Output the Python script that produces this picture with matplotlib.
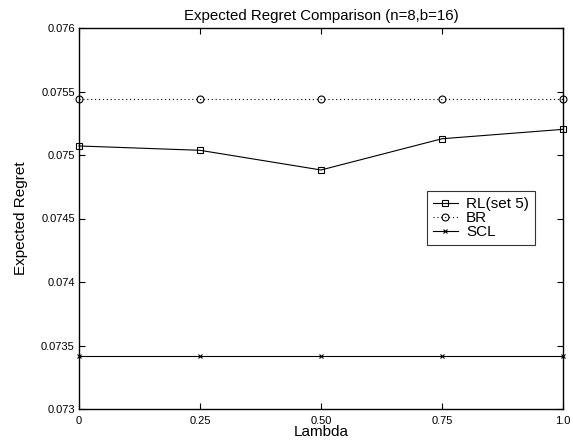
import numpy as np
import matplotlib
matplotlib.use("Agg")
import matplotlib.pyplot as plt

plt.rcParams["font.family"] = ["Liberation Sans", "DejaVu Sans"]

lam = [0, 0.25, 0.5, 0.75, 1.0]
lam_labels = ["0", "0.25", "0.50", "0.75", "1.0"]
rl = [0.075071, 0.075037, 0.074882, 0.075128, 0.075202]
br = [0.075441, 0.075441, 0.075441, 0.075441, 0.075441]
scl = [0.07342, 0.07342, 0.07342, 0.07342, 0.07342]
y_ticks = [0.073, 0.0735, 0.074, 0.0745, 0.075, 0.0755, 0.076]
y_labels = ["0.073", "0.0735", "0.074", "0.0745", "0.075", "0.0755", "0.076"]

fig = plt.figure(figsize=(5.73, 4.41), dpi=100)
ax = fig.add_axes([79 / 573, 1 - 409 / 441, (563 - 79) / 573, (409 - 28) / 441])

ax.plot(lam, rl, color="black", linewidth=0.8, marker="s", markersize=4.5,
        markerfacecolor="none", markeredgewidth=0.8, label="RL(set 5)", clip_on=False)
ax.plot(lam, br, color="black", linewidth=0.8, linestyle=(0, (1, 2.5)), marker="o",
        markersize=5, markerfacecolor="none", markeredgewidth=0.8, label="BR", clip_on=False)
ax.plot(lam, scl, color="black", linewidth=0.8, marker="x", markersize=3.5,
        markeredgewidth=0.8, label="SCL", clip_on=False)

ax.set_xlim(0, 1.0)
ax.set_ylim(0.073, 0.076)
ax.set_xticks(lam)
ax.set_xticklabels(lam_labels)
ax.set_yticks(y_ticks)
ax.set_yticklabels(y_labels)
ax.tick_params(direction="in", top=True, right=True, labelsize=8, length=4,
               width=0.8, pad=3)
ax.tick_params(axis="x", pad=5)
for s in ax.spines.values():
    s.set_linewidth(1.0)

ax.set_xlabel("Lambda", fontsize=11, labelpad=-1)
ax.set_ylabel("Expected Regret", fontsize=11, labelpad=9.5)
ax.set_title("Expected Regret Comparison (n=8,b=16)", fontsize=10.8, pad=6)

leg = ax.legend(loc="upper left", bbox_to_anchor=((427 - 79) / 484, (409 - 191) / 381),
                fontsize=11, frameon=True, fancybox=False, edgecolor="black",
                borderpad=0.4, labelspacing=0.0, handlelength=1.6, handletextpad=0.55,
                borderaxespad=0)
leg.get_frame().set_linewidth(0.8)

fig.savefig("out.png", dpi=100)
